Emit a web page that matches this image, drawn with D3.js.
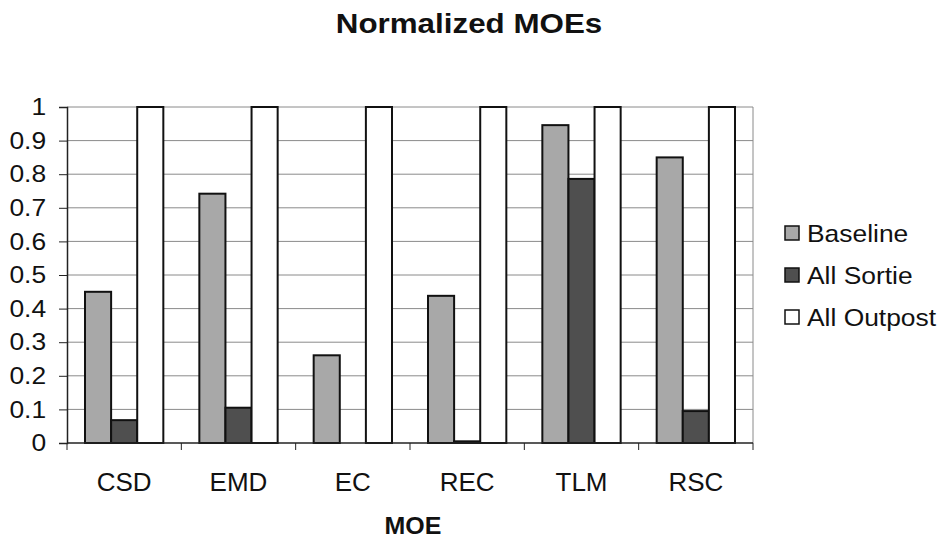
<!DOCTYPE html>
<html>
<head>
<meta charset="utf-8">
<script src="https://cdn.jsdelivr.net/npm/d3@7"></script>
<style>
  body { margin: 0; background: #fff; }
  text { font-family: "Liberation Sans", Arial, sans-serif; fill: #111; }
</style>
</head>
<body>
<div id="chart"></div>
<script>
// data
const categories = ["CSD", "EMD", "EC", "REC", "TLM", "RSC"];
const seriesNames = ["Baseline", "All Sortie", "All Outpost"];
const baseline = [0.45, 0.742, 0.261, 0.438, 0.946, 0.85];
const allSortie = [0.068, 0.105, 0, 0.005, 0.786, 0.095];
const allOutpost = [1, 1, 1, 1, 1, 1];
const yTicks = [0, 0.1, 0.2, 0.3, 0.4, 0.5, 0.6, 0.7, 0.8, 0.9, 1];

const seriesColors = ["#a8a8a8", "#4f4f4f", "#ffffff"];

const width = 943, height = 539;
const margin = {left: 67, right: 190, top: 107, bottom: 96};

// the source picture is a bit wider than tall, so text gets stretched too
const stretch = 1.1;

const svg = d3.select("#chart").append("svg")
    .attr("width", width)
    .attr("height", height);

const table = categories.map((c, i) => ({
    cat: c,
    vals: [baseline[i], allSortie[i], allOutpost[i]]
}));

// scales
const x = d3.scaleBand()
    .domain(categories)
    .range([margin.left, width - margin.right])
    .paddingInner(0.315)
    .paddingOuter(0.1575);

const xs = d3.scaleBand()
    .domain(d3.range(seriesNames.length))
    .range([0, x.bandwidth()]);

const y = d3.scaleLinear()
    .domain([0, 1])
    .range([height - margin.bottom, margin.top]);

const bounds = d3.scaleLinear()
    .domain([0, categories.length])
    .range([margin.left, width - margin.right]);

// gridlines
svg.append("g")
    .selectAll("line")
    .data(yTicks.filter(d => d > 0))
    .join("line")
    .attr("x1", margin.left)
    .attr("x2", width - margin.right)
    .attr("y1", d => y(d))
    .attr("y2", d => y(d))
    .attr("stroke", "#8a8a8a")
    .attr("stroke-width", 1);

// right border
svg.append("line")
    .attr("x1", width - margin.right).attr("x2", width - margin.right)
    .attr("y1", y(1)).attr("y2", y(0))
    .attr("stroke", "#8a8a8a");

// bars
svg.append("g")
    .selectAll("g")
    .data(table)
    .join("g")
    .attr("transform", d => "translate(" + x(d.cat) + ",0)")
    .selectAll("rect")
    .data(d => d.vals.map((v, k) => ({k: k, v: v})))
    .join("rect")
    .filter(d => d.v > 0)
    .attr("x", d => xs(d.k))
    .attr("width", xs.bandwidth())
    .attr("y", d => y(d.v))
    .attr("height", d => y(0) - y(d.v))
    .attr("fill", d => seriesColors[d.k])
    .attr("stroke", "#111")
    .attr("stroke-width", 2);

// y axis
const yAxis = svg.append("g")
    .attr("transform", "translate(" + margin.left + ",0)")
    .call(d3.axisLeft(y).tickValues(yTicks).tickFormat(d3.format("~g")).tickSize(8).tickPadding(11));
yAxis.select(".domain").attr("stroke", "#222").attr("stroke-width", 1.5);
yAxis.selectAll(".tick line").attr("stroke", "#222");
yAxis.selectAll("text")
    .style("font-size", "24px")
    .attr("fill", "#111")
    .attr("transform", "scale(" + stretch + ",1)");

// x axis line and boundary ticks
svg.append("line")
    .attr("x1", margin.left).attr("x2", width - margin.right)
    .attr("y1", y(0)).attr("y2", y(0))
    .attr("stroke", "#222").attr("stroke-width", 1.5);

svg.append("g")
    .selectAll("line")
    .data(d3.range(categories.length + 1))
    .join("line")
    .attr("x1", d => bounds(d)).attr("x2", d => bounds(d))
    .attr("y1", y(0)).attr("y2", y(0) + 7)
    .attr("stroke", "#222");

const xAxis = svg.append("g")
    .attr("transform", "translate(0," + y(0) + ")")
    .call(d3.axisBottom(x).tickSize(0).tickPadding(30));
xAxis.select(".domain").remove();
xAxis.selectAll("text")
    .style("font-size", "25px")
    .attr("fill", "#111")
    .attr("transform", "scale(1.04,1)");

// titles
svg.append("text")
    .attr("transform", "translate(469,33) scale(1.12,1)")
    .attr("text-anchor", "middle")
    .style("font-size", "28px").style("font-weight", "bold")
    .text("Normalized MOEs");

svg.append("text")
    .attr("transform", "translate(" + ((margin.left + width - margin.right) / 2 + 3) + ",534) scale(1.04,1)")
    .attr("text-anchor", "middle")
    .style("font-size", "24px").style("font-weight", "bold")
    .text("MOE");

// legend
const legend = svg.append("g")
    .selectAll("g")
    .data(seriesNames)
    .join("g")
    .attr("transform", (d, i) => "translate(785," + (233 + i * 42) + ")");

legend.append("rect")
    .attr("x", 0).attr("y", -7)
    .attr("width", 14).attr("height", 14)
    .attr("fill", (d, i) => seriesColors[i])
    .attr("stroke", "#111").attr("stroke-width", 1.5);

legend.append("text")
    .attr("transform", "translate(22,0) scale(" + stretch + ",1)")
    .attr("dy", "0.36em")
    .style("font-size", "24px")
    .text(d => d);
</script>
</body>
</html>
